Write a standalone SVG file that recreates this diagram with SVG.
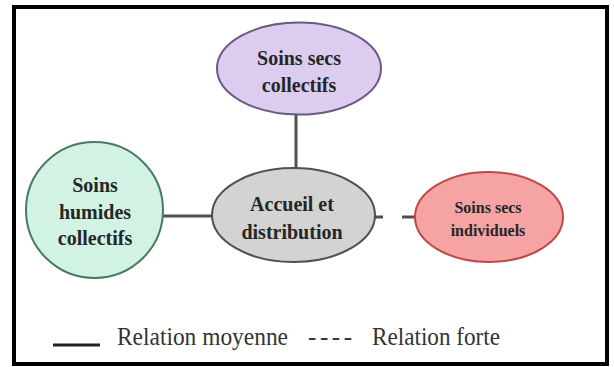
<svg xmlns="http://www.w3.org/2000/svg" width="614" height="367" viewBox="0 0 614 367" font-family="Liberation Serif">
<style>
.lbl{font-weight:bold;font-size:20px;fill:#262626;text-anchor:middle}
.sm{font-size:16px}
.leg{font-size:25px;fill:#333}
.conn{stroke:#505050;stroke-width:3;fill:none}
.node{stroke-width:2}
</style>
<rect x="0" y="0" width="614" height="367" fill="#ffffff"/>
<rect x="14" y="7" width="593" height="357" fill="#ffffff" stroke="#000" stroke-width="4"/>
<g id="connectors">
  <line class="conn" x1="296" y1="114" x2="296" y2="168"/>
  <line class="conn" x1="163" y1="216" x2="212" y2="216"/>
  <line class="conn" x1="375" y1="217" x2="416" y2="217" stroke-dasharray="8 19 14"/>
</g>
<g id="n_secs_collectifs">
  <ellipse class="node" cx="299" cy="68.5" rx="82" ry="46" fill="#dccdf0" stroke="#6b5a80"/>
  <text class="lbl" x="299" y="65" font-family="Liberation Serif">Soins secs</text>
  <text class="lbl" x="299" y="92" font-family="Liberation Serif">collectifs</text>
</g>
<g id="n_humides">
  <ellipse class="node" cx="94.5" cy="210" rx="68.5" ry="68" fill="#d2f3e3" stroke="#4a7a5e"/>
  <text class="lbl" x="95" y="192" font-family="Liberation Serif">Soins</text>
  <text class="lbl" x="95" y="219" font-family="Liberation Serif">humides</text>
  <text class="lbl" x="95" y="245" font-family="Liberation Serif">collectifs</text>
</g>
<g id="n_accueil">
  <ellipse class="node" cx="293.5" cy="215" rx="81.5" ry="47" fill="#d3d3d3" stroke="#505050"/>
  <text class="lbl" x="292" y="211" font-family="Liberation Serif">Accueil et</text>
  <text class="lbl" x="292" y="239" font-family="Liberation Serif">distribution</text>
</g>
<g id="n_individuels">
  <ellipse class="node" cx="489" cy="217" rx="74" ry="45" fill="#f5a3a3" stroke="#c04848"/>
  <text class="lbl sm" x="488" y="213" font-family="Liberation Serif">Soins secs</text>
  <text class="lbl sm" x="488" y="236" font-family="Liberation Serif">individuels</text>
</g>
<g id="legend">
  <line x1="53" y1="345" x2="100" y2="345" stroke="#222" stroke-width="3"/>
  <text class="leg" x="117" y="345" font-family="Liberation Serif" textLength="171" lengthAdjust="spacingAndGlyphs">Relation moyenne</text>
  <text class="leg" x="308" y="345" font-family="Liberation Serif" textLength="44" lengthAdjust="spacing">----</text>
  <text class="leg" x="372" y="345" font-family="Liberation Serif" textLength="128" lengthAdjust="spacingAndGlyphs">Relation forte</text>
</g>
</svg>
